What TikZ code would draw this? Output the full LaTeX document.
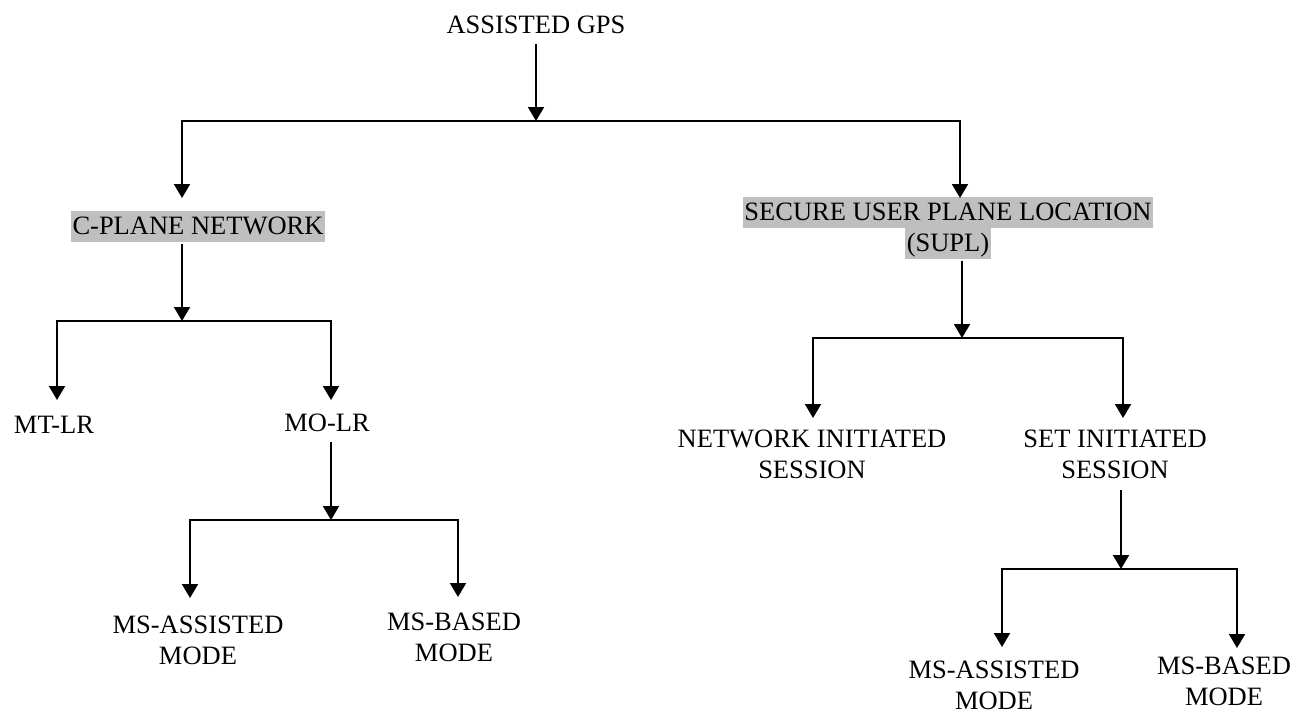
\documentclass[tikz,border=0pt]{standalone}
\usepackage{fontspec}
\setmainfont{Liberation Serif}
\usetikzlibrary{arrows.meta}
\definecolor{hl}{RGB}{191,191,191}
\newcommand\hlstrut{\rule[-8pt]{0pt}{31pt}}
\newcommand\hlbox[1]{{\setlength{\fboxsep}{0pt}\colorbox{hl}{\hlstrut\kern1.5pt #1\kern1.5pt}}}
\begin{document}
\begin{tikzpicture}[x=1pt,y=-1pt,
  lbl/.style={inner sep=0pt, anchor=base, align=center, font=\fontsize{26.5}{30.5}\selectfont},
  hllbl/.style={lbl, font=\fontsize{26.5}{31}\selectfont},
  ln/.style={line width=2pt},
  arr/.style={ln, -{Triangle[width=16pt,length=14pt]}}]
\useasboundingbox (0,0) rectangle (1313,715);

% nodes (anchor=base is the baseline of the last line)
\node[lbl] (gps) at (536,33) {ASSISTED GPS};
\node[hllbl] (cp) at (198,234) {\hlbox{C-PLANE NETWORK}};
\node[hllbl] (supl) at (948,251) {\hlbox{SECURE USER PLANE LOCATION}\\\hlbox{(SUPL)}};
\node[lbl] (mt) at (54,433) {MT-LR};
\node[lbl] (mo) at (327,431) {MO-LR};
\node[lbl] (lma) at (198,664) {MS-ASSISTED\\MODE};
\node[lbl] (lmb) at (454,661) {MS-BASED\\MODE};
\node[lbl] (nis) at (812,478) {NETWORK INITIATED\\SESSION};
\node[lbl] (sis) at (1115,478) {SET INITIATED\\SESSION};
\node[lbl] (rma) at (994,709) {MS-ASSISTED\\MODE};
\node[lbl] (rmb) at (1224,705) {MS-BASED\\MODE};

% junctions and arrow ends
\coordinate (j1) at (536,121);
\coordinate (t1l) at (182,198);
\coordinate (t1r) at (960,198);
\coordinate (j2) at (182,321);
\coordinate (t2l) at (57,400);
\coordinate (t2r) at (331,400);
\coordinate (j3) at (331,520);
\coordinate (t3l) at (190,598);
\coordinate (t3r) at (458,597);
\coordinate (j4) at (962,338);
\coordinate (t4l) at (813,418);
\coordinate (t4r) at (1123,418);
\coordinate (j5) at (1121,569);
\coordinate (t5l) at (1002,647);
\coordinate (t5r) at (1237,648);

% connectors
\draw[arr] ([yshift=-11pt]gps.south) -- (j1);
\draw[arr] (j1) -| (t1l);
\draw[arr] (j1) -| (t1r);

\draw[arr] ([yshift=-2pt]cp.south -| j2) -- (j2);
\draw[arr] (j2) -| (t2l);
\draw[arr] (j2) -| (t2r);

\draw[arr] ([yshift=-11pt]mo.south -| j3) -- (j3);
\draw[arr] (j3) -| (t3l);
\draw[arr] (j3) -| (t3r);

\draw[arr] ([yshift=-2pt]supl.south -| j4) -- (j4);
\draw[arr] (j4) -| (t4l);
\draw[arr] (j4) -| (t4r);

\draw[arr] ([yshift=-12pt]sis.south -| j5) -- (j5);
\draw[arr] (j5) -| (t5l);
\draw[arr] (j5) -| (t5r);
\end{tikzpicture}
\end{document}
